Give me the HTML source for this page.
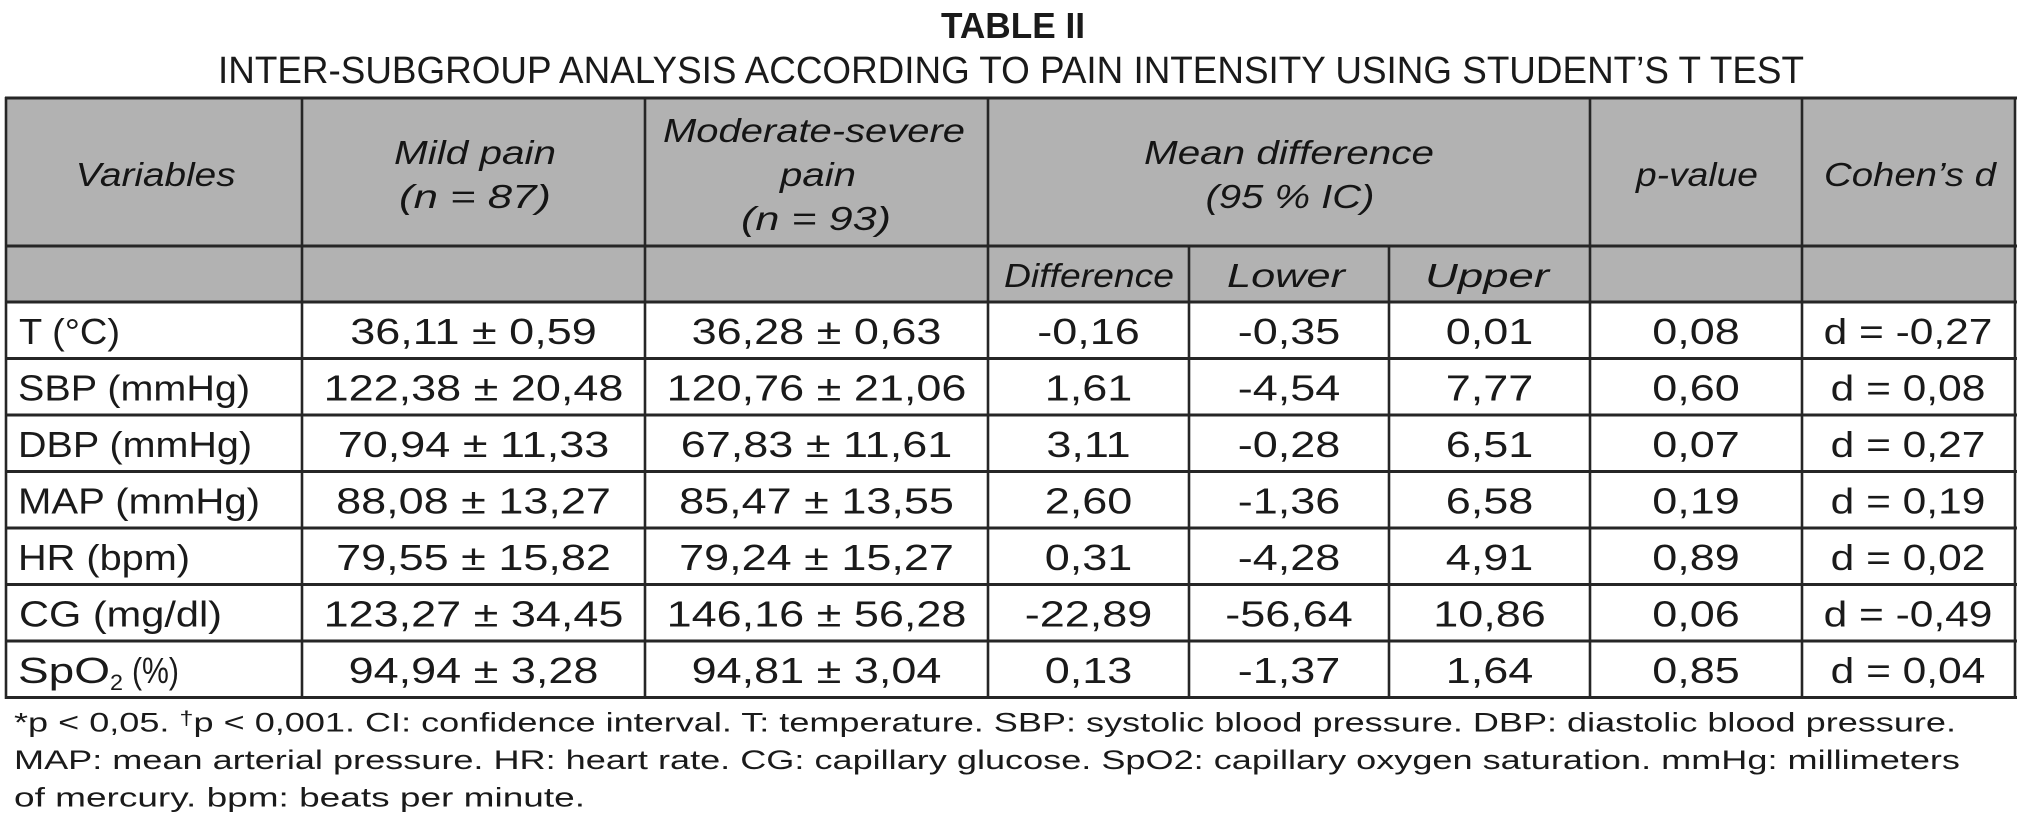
<!DOCTYPE html>
<html>
<head>
<meta charset="utf-8">
<style>
  html,body{margin:0;padding:0;background:#fff;}
  svg{display:block;}
  .t{font-family:"Liberation Sans",Arial,sans-serif;fill:#1a1a1a;}
  .hi{font-family:"Liberation Sans",Arial,sans-serif;font-style:italic;fill:#151515;font-size:33px;}
</style>
</head>
<body>
<svg width="2021" height="832" viewBox="0 0 2021 832" xmlns="http://www.w3.org/2000/svg">
  <rect x="0" y="0" width="2021" height="832" fill="#ffffff"/>

  <!-- Title -->
  <text class="t" x="1013" y="38" text-anchor="middle" font-size="36" font-weight="bold" fill="#474747" textLength="144" lengthAdjust="spacingAndGlyphs">TABLE II</text>
  <text class="t" x="218" y="83" font-size="38" fill="#1c1c1c" textLength="1586" lengthAdjust="spacingAndGlyphs">INTER-SUBGROUP ANALYSIS ACCORDING TO PAIN INTENSITY USING STUDENT’S T TEST</text>

  <!-- Header background -->
  <rect x="6" y="98" width="2010" height="204" fill="#b2b2b2"/>

  <!-- Horizontal lines -->
  <g stroke="#262626" stroke-width="3">
    <line x1="5" y1="98" x2="2017" y2="98"/>
    <line x1="5" y1="246" x2="2017" y2="246"/>
    <line x1="5" y1="302" x2="2017" y2="302"/>
    <line x1="5" y1="358.5" x2="2017" y2="358.5"/>
    <line x1="5" y1="415" x2="2017" y2="415"/>
    <line x1="5" y1="471.5" x2="2017" y2="471.5"/>
    <line x1="5" y1="528" x2="2017" y2="528"/>
    <line x1="5" y1="584.5" x2="2017" y2="584.5"/>
    <line x1="5" y1="641" x2="2017" y2="641"/>
    <line x1="5" y1="697.5" x2="2017" y2="697.5"/>
  </g>
  <!-- Vertical lines -->
  <g stroke="#262626" stroke-width="2.6">
    <line x1="6" y1="97" x2="6" y2="699"/>
    <line x1="302" y1="97" x2="302" y2="699"/>
    <line x1="645" y1="97" x2="645" y2="699"/>
    <line x1="988" y1="97" x2="988" y2="699"/>
    <line x1="1189" y1="246" x2="1189" y2="699"/>
    <line x1="1389" y1="246" x2="1389" y2="699"/>
    <line x1="1590" y1="97" x2="1590" y2="699"/>
    <line x1="1802" y1="97" x2="1802" y2="699"/>
    <line x1="2015" y1="97" x2="2015" y2="699"/>
  </g>

  <!-- Header text -->
  <text class="hi" x="155.6" y="186" text-anchor="middle" textLength="160" lengthAdjust="spacingAndGlyphs">Variables</text>
  <text class="hi" x="475" y="164" text-anchor="middle" textLength="162" lengthAdjust="spacingAndGlyphs">Mild pain</text>
  <text class="hi" x="475" y="208" text-anchor="middle" textLength="152" lengthAdjust="spacingAndGlyphs">(n = 87)</text>
  <text class="hi" x="814" y="142" text-anchor="middle" textLength="302" lengthAdjust="spacingAndGlyphs">Moderate-severe</text>
  <text class="hi" x="818" y="186" text-anchor="middle" textLength="76" lengthAdjust="spacingAndGlyphs">pain</text>
  <text class="hi" x="816" y="230" text-anchor="middle" textLength="150" lengthAdjust="spacingAndGlyphs">(n = 93)</text>
  <text class="hi" x="1289" y="164" text-anchor="middle" textLength="290" lengthAdjust="spacingAndGlyphs">Mean difference</text>
  <text class="hi" x="1290" y="208" text-anchor="middle" textLength="169" lengthAdjust="spacingAndGlyphs">(95 % IC)</text>
  <text class="hi" x="1697" y="186" text-anchor="middle" textLength="122" lengthAdjust="spacingAndGlyphs">p-value</text>
  <text class="hi" x="1910" y="186" text-anchor="middle" textLength="172" lengthAdjust="spacingAndGlyphs">Cohen’s d</text>
  <text class="hi" x="1089" y="287" text-anchor="middle" textLength="170" lengthAdjust="spacingAndGlyphs">Difference</text>
  <text class="hi" x="1286" y="287" text-anchor="middle" textLength="118" lengthAdjust="spacingAndGlyphs">Lower</text>
  <text class="hi" x="1487" y="287" text-anchor="middle" textLength="124" lengthAdjust="spacingAndGlyphs">Upper</text>

  <!-- First column labels -->
  <g class="t" font-size="36">
    <text x="19" y="344" textLength="101" lengthAdjust="spacingAndGlyphs">T (°C)</text>
    <text x="18" y="400.5" textLength="232" lengthAdjust="spacingAndGlyphs">SBP (mmHg)</text>
    <text x="18" y="457" textLength="234" lengthAdjust="spacingAndGlyphs">DBP (mmHg)</text>
    <text x="18" y="513.5" textLength="242" lengthAdjust="spacingAndGlyphs">MAP (mmHg)</text>
    <text x="18" y="570" textLength="172" lengthAdjust="spacingAndGlyphs">HR (bpm)</text>
    <text x="19" y="626.5" textLength="203" lengthAdjust="spacingAndGlyphs">CG (mg/dl)</text>
    <text x="18" y="683" textLength="92" lengthAdjust="spacingAndGlyphs">SpO</text>
    <text x="110" y="690" font-size="22" textLength="13" lengthAdjust="spacingAndGlyphs">2</text>
    <text x="132" y="683" textLength="47" lengthAdjust="spacingAndGlyphs">(%)</text>
  </g>

  <!-- Data -->
  <g class="t" font-size="36" text-anchor="middle">
    <!-- Row 1 -->
    <text transform="translate(473.5,344) scale(1.25,1)">36,11 ± 0,59</text>
    <text transform="translate(816.5,344) scale(1.25,1)">36,28 ± 0,63</text>
    <text transform="translate(1088.5,344) scale(1.25,1)">-0,16</text>
    <text transform="translate(1289,344) scale(1.25,1)">-0,35</text>
    <text transform="translate(1489.5,344) scale(1.25,1)">0,01</text>
    <text transform="translate(1696,344) scale(1.25,1)">0,08</text>
    <text transform="translate(1908,344) scale(1.18,1)">d = -0,27</text>
    <!-- Row 2 -->
    <text transform="translate(473.5,400.5) scale(1.25,1)">122,38 ± 20,48</text>
    <text transform="translate(816.5,400.5) scale(1.25,1)">120,76 ± 21,06</text>
    <text transform="translate(1088.5,400.5) scale(1.25,1)">1,61</text>
    <text transform="translate(1289,400.5) scale(1.25,1)">-4,54</text>
    <text transform="translate(1489.5,400.5) scale(1.25,1)">7,77</text>
    <text transform="translate(1696,400.5) scale(1.25,1)">0,60</text>
    <text transform="translate(1908,400.5) scale(1.18,1)">d = 0,08</text>
    <!-- Row 3 -->
    <text transform="translate(473.5,457) scale(1.25,1)">70,94 ± 11,33</text>
    <text transform="translate(816.5,457) scale(1.25,1)">67,83 ± 11,61</text>
    <text transform="translate(1088.5,457) scale(1.25,1)">3,11</text>
    <text transform="translate(1289,457) scale(1.25,1)">-0,28</text>
    <text transform="translate(1489.5,457) scale(1.25,1)">6,51</text>
    <text transform="translate(1696,457) scale(1.25,1)">0,07</text>
    <text transform="translate(1908,457) scale(1.18,1)">d = 0,27</text>
    <!-- Row 4 -->
    <text transform="translate(473.5,513.5) scale(1.25,1)">88,08 ± 13,27</text>
    <text transform="translate(816.5,513.5) scale(1.25,1)">85,47 ± 13,55</text>
    <text transform="translate(1088.5,513.5) scale(1.25,1)">2,60</text>
    <text transform="translate(1289,513.5) scale(1.25,1)">-1,36</text>
    <text transform="translate(1489.5,513.5) scale(1.25,1)">6,58</text>
    <text transform="translate(1696,513.5) scale(1.25,1)">0,19</text>
    <text transform="translate(1908,513.5) scale(1.18,1)">d = 0,19</text>
    <!-- Row 5 -->
    <text transform="translate(473.5,570) scale(1.25,1)">79,55 ± 15,82</text>
    <text transform="translate(816.5,570) scale(1.25,1)">79,24 ± 15,27</text>
    <text transform="translate(1088.5,570) scale(1.25,1)">0,31</text>
    <text transform="translate(1289,570) scale(1.25,1)">-4,28</text>
    <text transform="translate(1489.5,570) scale(1.25,1)">4,91</text>
    <text transform="translate(1696,570) scale(1.25,1)">0,89</text>
    <text transform="translate(1908,570) scale(1.18,1)">d = 0,02</text>
    <!-- Row 6 -->
    <text transform="translate(473.5,626.5) scale(1.25,1)">123,27 ± 34,45</text>
    <text transform="translate(816.5,626.5) scale(1.25,1)">146,16 ± 56,28</text>
    <text transform="translate(1088.5,626.5) scale(1.25,1)">-22,89</text>
    <text transform="translate(1289,626.5) scale(1.25,1)">-56,64</text>
    <text transform="translate(1489.5,626.5) scale(1.25,1)">10,86</text>
    <text transform="translate(1696,626.5) scale(1.25,1)">0,06</text>
    <text transform="translate(1908,626.5) scale(1.18,1)">d = -0,49</text>
    <!-- Row 7 -->
    <text transform="translate(473.5,683) scale(1.25,1)">94,94 ± 3,28</text>
    <text transform="translate(816.5,683) scale(1.25,1)">94,81 ± 3,04</text>
    <text transform="translate(1088.5,683) scale(1.25,1)">0,13</text>
    <text transform="translate(1289,683) scale(1.25,1)">-1,37</text>
    <text transform="translate(1489.5,683) scale(1.25,1)">1,64</text>
    <text transform="translate(1696,683) scale(1.25,1)">0,85</text>
    <text transform="translate(1908,683) scale(1.18,1)">d = 0,04</text>
  </g>

  <!-- Footnote -->
  <g class="t" font-size="27">
    <text x="14" y="731.5" textLength="1942" lengthAdjust="spacingAndGlyphs">*p &lt; 0,05. <tspan font-size="19" dy="-7">†</tspan><tspan dy="7">p &lt; 0,001. CI: confidence interval. T: temperature. SBP: systolic blood pressure. DBP: diastolic blood pressure.</tspan></text>
    <text x="14" y="769" textLength="1946" lengthAdjust="spacingAndGlyphs">MAP: mean arterial pressure. HR: heart rate. CG: capillary glucose. SpO2: capillary oxygen saturation. mmHg: millimeters</text>
    <text x="14" y="806.5" textLength="571" lengthAdjust="spacingAndGlyphs">of mercury. bpm: beats per minute.</text>
  </g>
</svg>
</body>
</html>
